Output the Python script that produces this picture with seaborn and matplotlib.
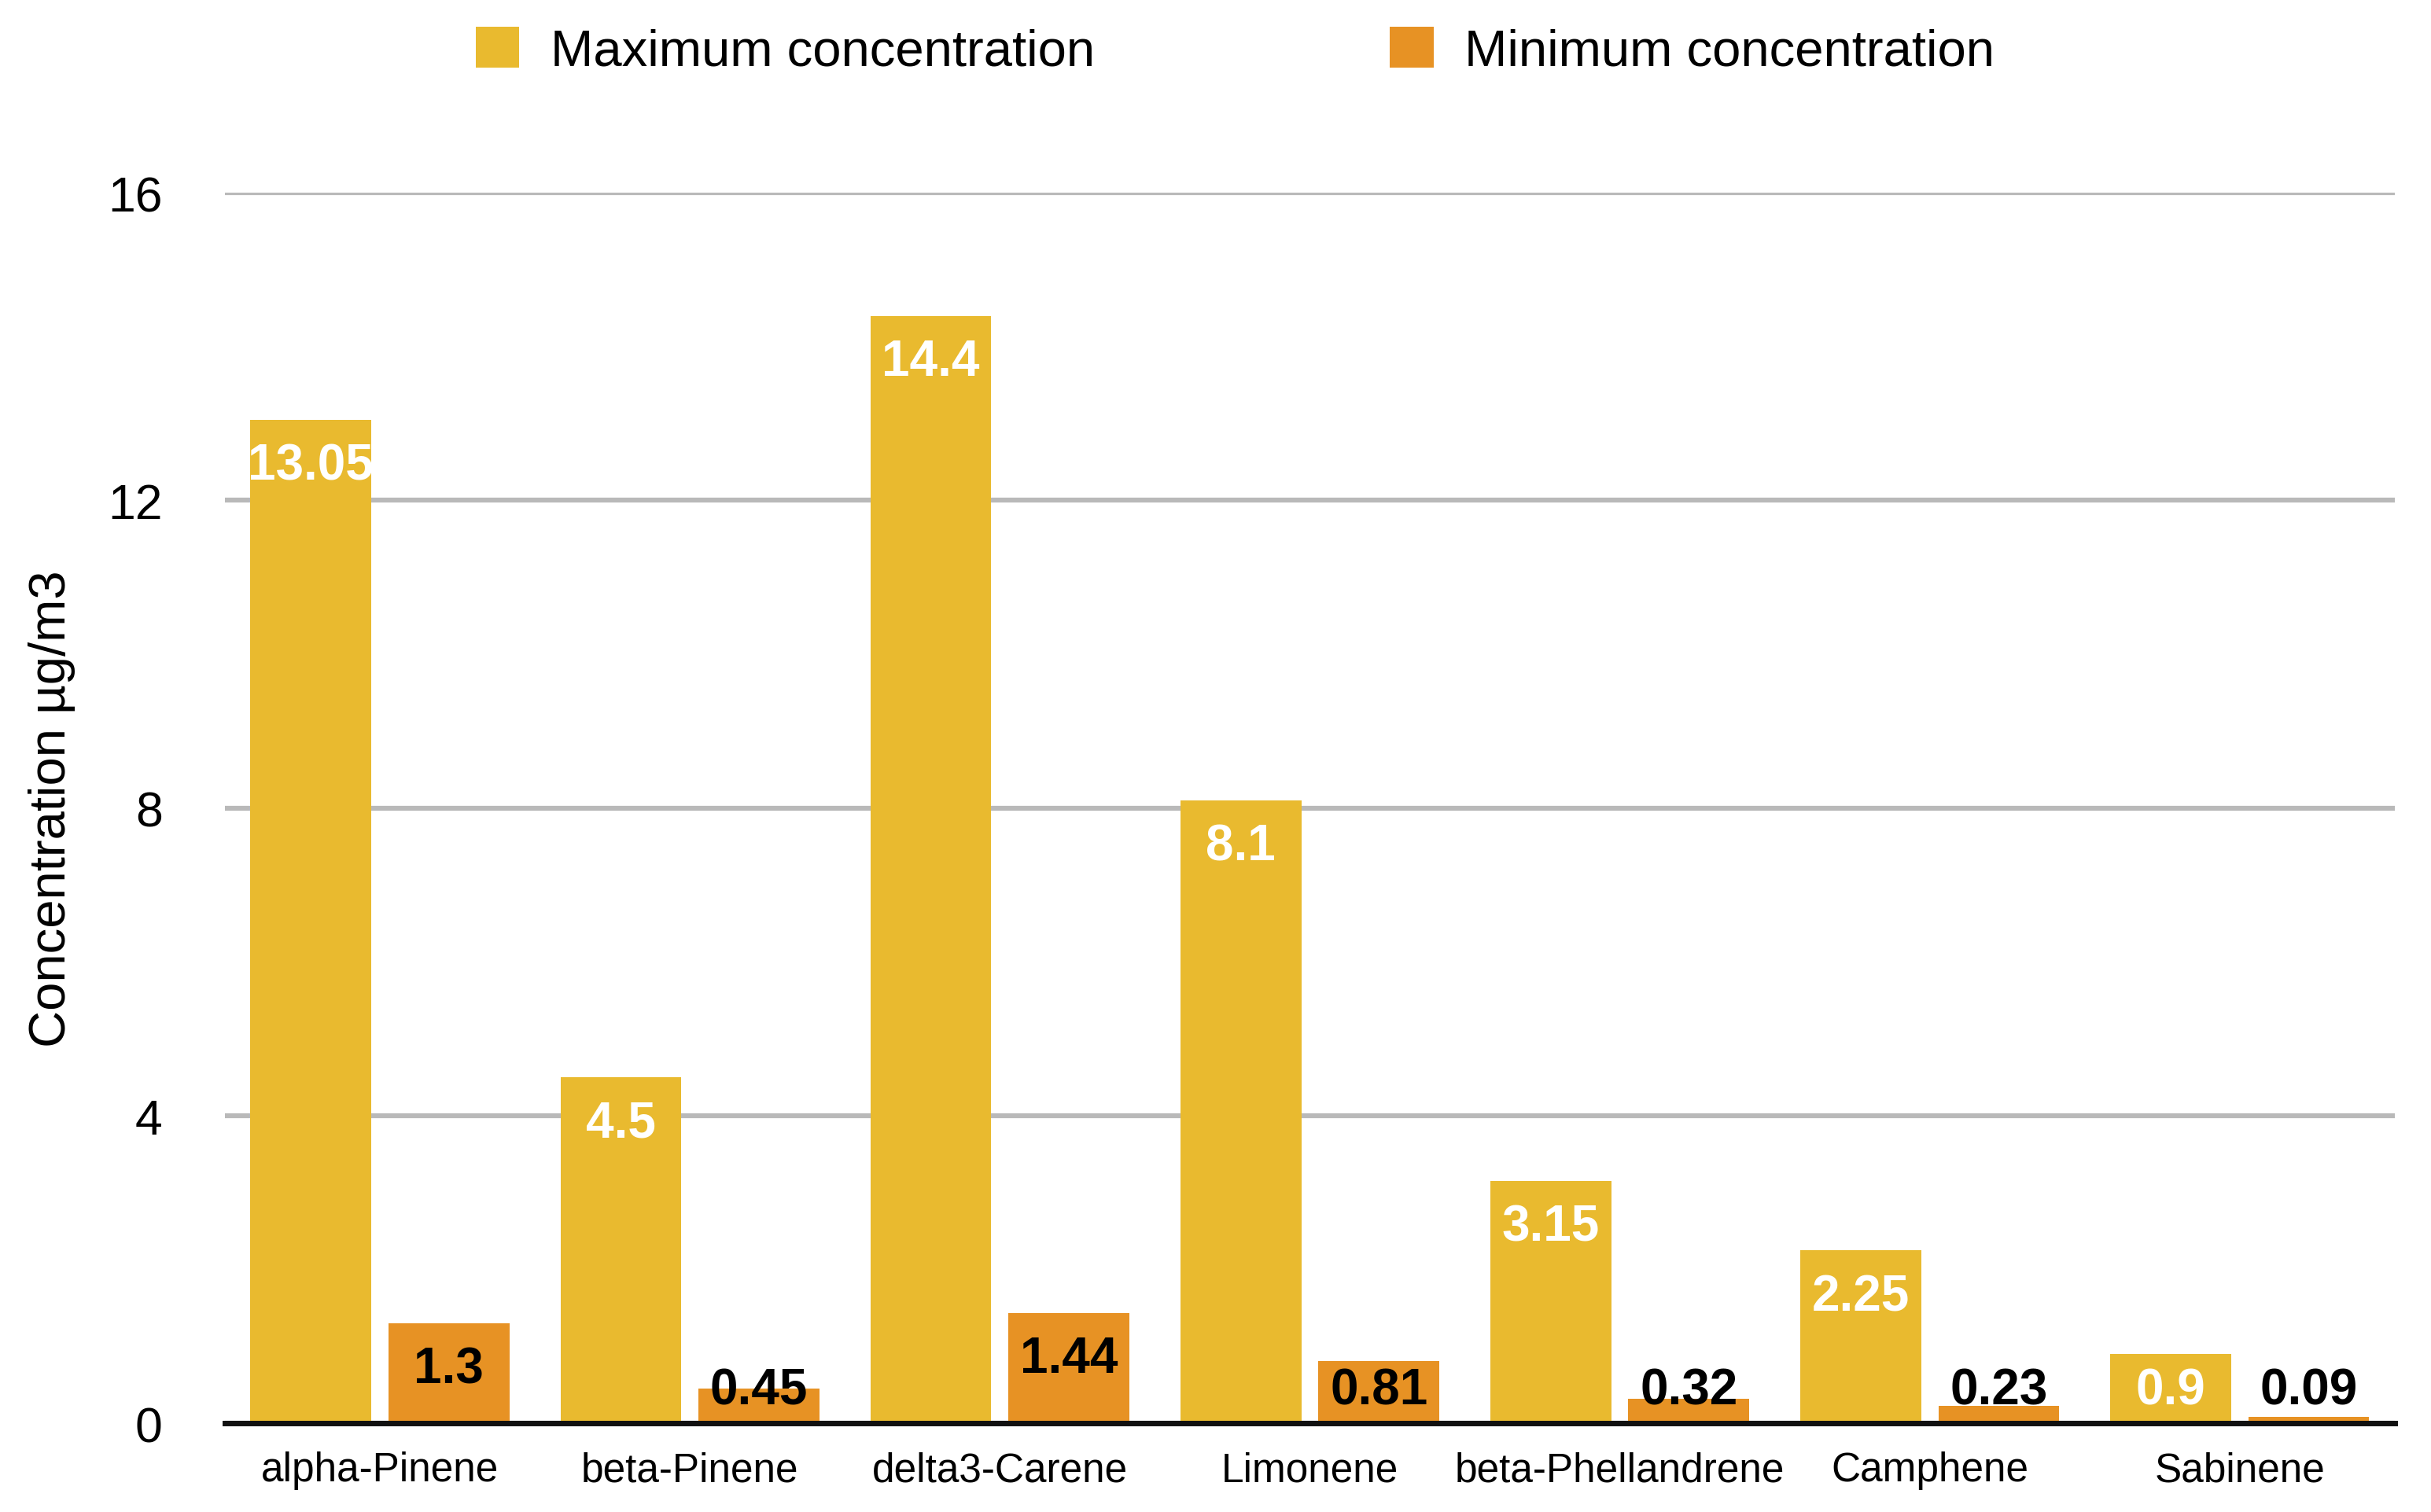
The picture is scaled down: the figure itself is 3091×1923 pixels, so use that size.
import matplotlib
matplotlib.use("Agg")
import matplotlib.pyplot as plt
import seaborn as sns
import pandas as pd

# ---- data ----
compounds = ["alpha-Pinene", "beta-Pinene", "delta3-Carene", "Limonene",
             "beta-Phellandrene", "Camphene", "Sabinene"]
max_conc = [13.05, 4.5, 14.4, 8.1, 3.15, 2.25, 0.9]
min_conc = [1.3, 0.45, 1.44, 0.81, 0.32, 0.23, 0.09]
series_names = ["Maximum concentration", "Minimum concentration"]
y_ticks = [0, 4, 8, 12, 16]
y_label = "Concentration µg/m3"

colors = ["#E9BA2F", "#E79224"]
label_colors = ["white", "black"]

df = pd.DataFrame({
    "compound": compounds * 2,
    "value": max_conc + min_conc,
    "series": [series_names[0]] * len(compounds) + [series_names[1]] * len(compounds),
})

sns.set_style("white")
plt.rcParams["font.family"] = ["Liberation Sans", "DejaVu Sans"]
plt.rcParams["text.color"] = "black"
plt.rcParams["axes.labelcolor"] = "black"
plt.rcParams["xtick.color"] = "black"
plt.rcParams["ytick.color"] = "black"

fig = plt.figure(figsize=(30.91, 19.24), dpi=100)
ax = fig.add_axes([0.0925, 0.0585, 0.8926, 0.8136])

sns.barplot(data=df, x="compound", y="value", hue="series", order=compounds,
            hue_order=series_names, palette=colors, width=0.89, gap=0.124,
            saturation=1, edgecolor="none", linewidth=0, ax=ax)

ax.set_xlim(-0.5, len(compounds) - 0.5)
ax.set_ylim(0, 16)
ax.set_yticks(y_ticks)
ax.set_yticklabels([str(t) for t in y_ticks])
ax.set_axisbelow(True)
ax.yaxis.grid(True, color="#b9b9b9", linewidth=4.5)
ax.xaxis.grid(False)

for s in ["top", "left", "right"]:
    ax.spines[s].set_visible(False)
ax.spines["bottom"].set_color("#111111")
ax.spines["bottom"].set_linewidth(5)
ax.spines["bottom"].set_zorder(5)

ax.tick_params(axis="y", length=0, pad=57, labelsize=45, labelcolor="black")
ax.tick_params(axis="x", length=0, pad=25, labelsize=37, labelcolor="black")
ax.set_xlabel("")
ax.set_ylabel(y_label, fontsize=47, color="black")
ax.yaxis.set_label_coords(-0.069, 0.5)

# value labels
for ci, cont in enumerate(ax.containers):
    for bar in cont:
        h = bar.get_height()
        xc = bar.get_x() + bar.get_width() / 2
        yl = max(h - 0.6, 0.43)
        ax.text(xc, yl, f"{h:g}", ha="center", va="center", fontsize=46,
                fontweight="bold", color=label_colors[ci], zorder=6)

# legend
handles, labels = ax.get_legend_handles_labels()
if ax.legend_:
    ax.legend_.remove()
fig.legend(handles, labels, loc="center left", bbox_to_anchor=(0.1957, 0.966),
           ncol=2, frameon=False, fontsize=47, handlelength=0.85, handleheight=0.85,
           handletextpad=0.6, columnspacing=5.75, borderpad=0, borderaxespad=0,
           labelcolor="black")

fig.savefig("out.png", dpi=100, facecolor="white")
